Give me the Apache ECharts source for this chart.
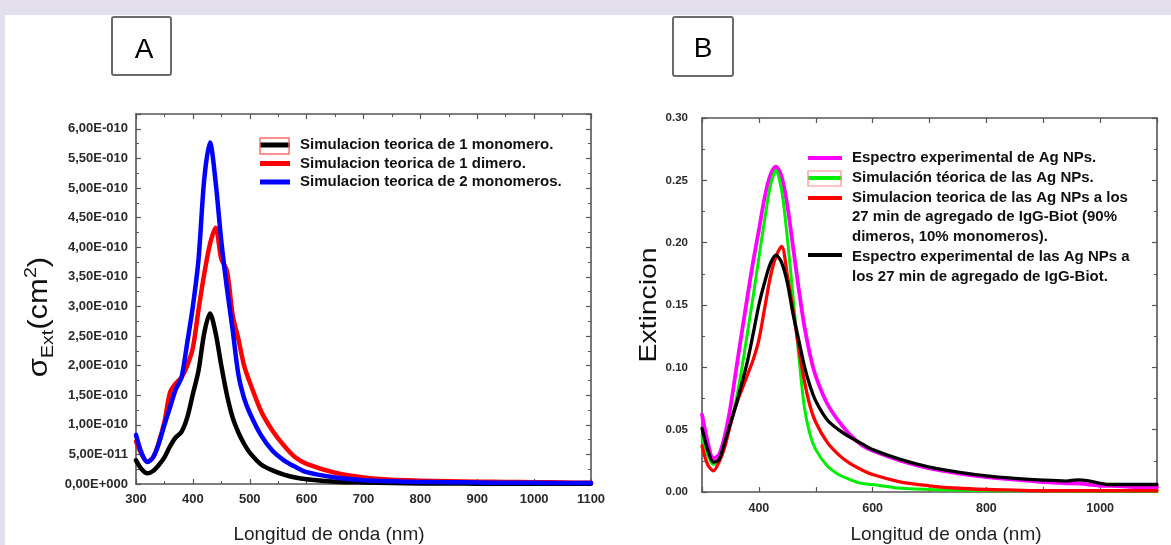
<!DOCTYPE html>
<html>
<head>
<meta charset="utf-8">
<title>Extinción de nanopartículas de Ag</title>
<script src="https://cdn.jsdelivr.net/npm/echarts@6/dist/echarts.min.js"></script>
<style>
  html, body { margin: 0; padding: 0; background: #fff; }
  #chart { width: 1171px; height: 545px; }
</style>
</head>
<body>
<div id="chart"></div>
<script>
// ---------- Panel A: simulated extinction cross-section (units of 1e-10 cm^2) ----------
const wavelengthA = [300, 310, 320, 330, 340, 350, 360, 370, 380, 390, 400, 410, 420, 430, 440, 450, 460, 470, 480, 490, 500, 520, 540, 560, 580, 600, 650, 700, 750, 800, 850, 900, 950, 1000, 1050, 1100];
const sigmaMonomer = [0.40, 0.25, 0.18, 0.22, 0.32, 0.45, 0.64, 0.79, 0.88, 1.12, 1.52, 1.92, 2.55, 2.88, 2.55, 2.00, 1.50, 1.12, 0.87, 0.68, 0.53, 0.33, 0.23, 0.16, 0.11, 0.08, 0.04, 0.025, 0.015, 0.01, 0.008, 0.006, 0.005, 0.004, 0.003, 0.003];
const sigmaDimer = [0.72, 0.50, 0.38, 0.45, 0.70, 1.05, 1.55, 1.70, 1.80, 2.00, 2.30, 2.95, 3.55, 4.05, 4.33, 3.80, 3.60, 2.85, 2.45, 2.00, 1.72, 1.23, 0.90, 0.65, 0.45, 0.34, 0.19, 0.11, 0.07, 0.055, 0.045, 0.04, 0.035, 0.03, 0.025, 0.02];
const sigmaTwoMonomers = [0.83, 0.52, 0.37, 0.45, 0.68, 1.00, 1.30, 1.60, 1.80, 2.38, 3.00, 3.80, 5.15, 5.77, 5.10, 4.10, 3.30, 2.60, 1.85, 1.45, 1.20, 0.82, 0.56, 0.40, 0.29, 0.20, 0.11, 0.065, 0.045, 0.035, 0.03, 0.025, 0.02, 0.02, 0.015, 0.015];
const namesA = [
  'Simulacion teorica de 1 monomero.',
  'Simulacion teorica de 1 dimero.',
  'Simulacion teorica de 2 monomeros.'
];
const xTicksA = [300, 400, 500, 600, 700, 800, 900, 1000, 1100];

// ---------- Panel B: measured and simulated extinction ----------
const wavelengthB = [300, 310, 320, 330, 340, 350, 360, 370, 380, 390, 400, 410, 420, 430, 440, 450, 460, 470, 480, 490, 500, 520, 540, 560, 580, 600, 650, 700, 750, 800, 850, 900, 940, 960, 980, 1000, 1020, 1060, 1100];
const extAgExp = [0.062, 0.040, 0.027, 0.030, 0.045, 0.068, 0.098, 0.128, 0.157, 0.185, 0.210, 0.236, 0.254, 0.261, 0.253, 0.230, 0.197, 0.163, 0.133, 0.110, 0.093, 0.071, 0.057, 0.046, 0.038, 0.033, 0.025, 0.019, 0.015, 0.012, 0.010, 0.008, 0.007, 0.007, 0.006, 0.005, 0.005, 0.004, 0.004];
const extAgSim = [0.045, 0.030, 0.022, 0.026, 0.039, 0.055, 0.074, 0.099, 0.128, 0.157, 0.188, 0.218, 0.245, 0.258, 0.242, 0.204, 0.157, 0.110, 0.068, 0.046, 0.034, 0.021, 0.014, 0.010, 0.007, 0.006, 0.003, 0.002, 0.0015, 0.001, 0.001, 0.0008, 0.0006, 0.0005, 0.0005, 0.0005, 0.0005, 0.0005, 0.0005];
const extDimerSim = [0.037, 0.022, 0.017, 0.024, 0.036, 0.054, 0.070, 0.082, 0.094, 0.106, 0.122, 0.147, 0.172, 0.189, 0.197, 0.174, 0.146, 0.116, 0.089, 0.069, 0.056, 0.040, 0.030, 0.023, 0.018, 0.014, 0.008, 0.005, 0.003, 0.002, 0.0015, 0.001, 0.001, 0.001, 0.001, 0.001, 0.001, 0.001, 0.001];
const extIgGExp = [0.051, 0.034, 0.024, 0.026, 0.040, 0.055, 0.070, 0.087, 0.105, 0.127, 0.150, 0.168, 0.183, 0.190, 0.184, 0.168, 0.143, 0.122, 0.101, 0.085, 0.073, 0.058, 0.050, 0.044, 0.039, 0.034, 0.026, 0.020, 0.016, 0.013, 0.011, 0.0095, 0.0088, 0.0098, 0.009, 0.007, 0.006, 0.006, 0.006];
const namesB = [
  'Espectro experimental de Ag NPs.',
  'Simulación téorica de las Ag NPs.',
  'Simulacion teorica de las Ag NPs a los 27 min de agregado de IgG-Biot (90% dimeros, 10% monomeros).',
  'Espectro experimental de las Ag NPs a los 27 min de agregado de IgG-Biot.'
];
const legendLinesB = [
  'Espectro experimental de Ag NPs.',
  'Simulación téorica de las Ag NPs.',
  'Simulacion teorica de las Ag NPs a los',
  '27 min de agregado de IgG-Biot (90%',
  'dimeros, 10% monomeros).',
  'Espectro experimental de las Ag NPs a',
  'los 27 min de agregado de IgG-Biot.'
];
const xTicksB = [400, 600, 800, 1000];

const FONT = '"Liberation Sans", Arial, Helvetica, sans-serif';
const FRAME = '#555';
const colorsA = ['#000000', '#ff0000', '#0000ff'];
const colorsB = ['#ff00ff', '#00ee00', '#ff0000', '#000000'];

function pairs(xs, ys) { return xs.map((x, i) => [x, ys[i]]); }

// "6,00E-010" style labels for values given in 1e-10 cm^2
function sciLabel(v) {
  if (v > 6.001) return '';
  const real = v * 1e-10;
  if (Math.abs(real) < 1e-30) return '0,00E+000';
  const exp = Math.floor(Math.log10(real) + 1e-9);
  const mant = real / Math.pow(10, exp);
  return mant.toFixed(2).replace('.', ',') + 'E' + (exp < 0 ? '-' : '+') + String(Math.abs(exp)).padStart(3, '0');
}

function frameAxis(extra) {
  return Object.assign({
    type: 'value',
    axisLine: { show: true, onZero: false, lineStyle: { color: FRAME, width: 1.6 } },
    axisTick: { show: true, inside: true, length: 5, lineStyle: { color: FRAME, width: 1.2 } },
    minorTick: { show: false },
    splitLine: { show: false },
    minorSplitLine: { show: false }
  }, extra);
}

const tickFontA = { fontFamily: FONT, fontWeight: 'bold', fontSize: 13, color: '#2a2a2a' };
const tickFontB = { fontFamily: FONT, fontWeight: 'bold', fontSize: 12, color: '#2a2a2a' };

const xAxes = [
  frameAxis({ gridIndex: 0, position: 'bottom', min: 300, max: 1100, interval: 100,
    minorTick: { show: true, splitNumber: 2, length: 3, lineStyle: { color: FRAME } },
    axisLabel: Object.assign({ margin: 9, formatter: v => xTicksA.includes(v) ? String(v) : '' }, tickFontA) }),
  frameAxis({ gridIndex: 0, position: 'top', min: 300, max: 1100, interval: 100,
    minorTick: { show: true, splitNumber: 2, length: 3, lineStyle: { color: FRAME } },
    axisLabel: { show: false } }),
  frameAxis({ gridIndex: 1, position: 'bottom', min: 300, max: 1100, interval: 100,
    axisLabel: Object.assign({ margin: 10, formatter: v => xTicksB.includes(v) ? String(v) : '' }, tickFontB, { fontSize: 12.5 }) }),
  frameAxis({ gridIndex: 1, position: 'top', min: 300, max: 1100, interval: 100,
    axisLabel: { show: false } })
];

const yAxes = [
  frameAxis({ gridIndex: 0, position: 'left', min: 0, max: 6.25, interval: 0.5,
    minorTick: { show: true, splitNumber: 2, length: 3, lineStyle: { color: FRAME } },
    axisLabel: Object.assign({ margin: 8, formatter: sciLabel }, tickFontA) }),
  frameAxis({ gridIndex: 0, position: 'right', min: 0, max: 6.25, interval: 0.5,
    minorTick: { show: true, splitNumber: 2, length: 3, lineStyle: { color: FRAME } },
    axisLabel: { show: false } }),
  frameAxis({ gridIndex: 1, position: 'left', min: 0, max: 0.3, interval: 0.05,
    minorTick: { show: true, splitNumber: 2, length: 3, lineStyle: { color: FRAME } },
    axisLabel: Object.assign({ margin: 14, formatter: v => v.toFixed(2) }, tickFontB, { fontSize: 11.5 }) }),
  frameAxis({ gridIndex: 1, position: 'right', min: 0, max: 0.3, interval: 0.05,
    minorTick: { show: true, splitNumber: 2, length: 3, lineStyle: { color: FRAME } },
    axisLabel: { show: false } })
];

function curve(name, xs, ys, color, width, axis) {
  return {
    name: name, type: 'line', xAxisIndex: axis, yAxisIndex: axis,
    data: pairs(xs, ys), showSymbol: false, symbol: 'none',
    smooth: 0.3,
    lineStyle: { color: color, width: width, join: 'round', cap: 'round' }, itemStyle: { color: color },
    emphasis: { disabled: true }, silent: true
  };
}

const series = [
  curve(namesA[0], wavelengthA, sigmaMonomer, colorsA[0], 4.5, 0),
  curve(namesA[1], wavelengthA, sigmaDimer, colorsA[1], 4.5, 0),
  curve(namesA[2], wavelengthA, sigmaTwoMonomers, colorsA[2], 4.5, 0),
  curve(namesB[0], wavelengthB, extAgExp, colorsB[0], 3.8, 2),
  curve(namesB[1], wavelengthB, extAgSim, colorsB[1], 3, 2),
  curve(namesB[2], wavelengthB, extDimerSim, colorsB[2], 3.3, 2),
  curve(namesB[3], wavelengthB, extIgGExp, colorsB[3], 3.3, 2)
];

// Legend samples for panel B (first line of each entry carries the sample)
const legendRowY = [158, 178, 198, 255];
const legendB = [];
colorsB.forEach((c, i) => {
  legendB.push({ type: 'line', silent: true, z: 50,
    shape: { x1: 808, y1: legendRowY[i], x2: 842, y2: legendRowY[i] },
    style: { stroke: c, lineWidth: 4 } });
});
legendB.push({ type: 'rect', silent: true, z: 51,
  shape: { x: 808, y: 171, width: 33, height: 15 },
  style: { fill: 'none', stroke: '#ff8c8c', lineWidth: 1.2 } });
legendB.push({ type: 'text', silent: true, z: 50, x: 852, y: 148,
  style: { text: legendLinesB.join('\n'), fontFamily: FONT, fontWeight: 'bold', fontSize: 15,
    lineHeight: 19.8, fill: '#111', align: 'left', verticalAlign: 'top' } });

const graphic = [
  // page frame
  { type: 'rect', silent: true, shape: { x: 0, y: 0, width: 1171, height: 15 }, style: { fill: '#e4dfec' } },
  { type: 'rect', silent: true, shape: { x: 0, y: 0, width: 5, height: 545 }, style: { fill: '#e4dfec' } },
  // panel tags
  { type: 'rect', silent: true, shape: { x: 112, y: 17, width: 59, height: 58, r: 2 }, style: { fill: '#fff', stroke: '#6b6b6b', lineWidth: 2 } },
  { type: 'text', silent: true, x: 144, y: 50, style: { text: 'A', fontFamily: FONT, fontSize: 28, fill: '#000', align: 'center', verticalAlign: 'middle' } },
  { type: 'rect', silent: true, shape: { x: 673, y: 17, width: 60, height: 59, r: 2 }, style: { fill: '#fff', stroke: '#6b6b6b', lineWidth: 2 } },
  { type: 'text', silent: true, x: 703, y: 49, style: { text: 'B', fontFamily: FONT, fontSize: 28, fill: '#000', align: 'center', verticalAlign: 'middle' } },
  // axis titles
  { type: 'text', silent: true, x: 329, y: 535, style: { text: 'Longitud de onda (nm)', fontFamily: FONT, fontSize: 19, fill: '#222', align: 'center', verticalAlign: 'middle' } },
  { type: 'text', silent: true, x: 946, y: 535, style: { text: 'Longitud de onda (nm)', fontFamily: FONT, fontSize: 19, fill: '#222', align: 'center', verticalAlign: 'middle' } },
  { type: 'text', silent: true, x: 40, y: 317, rotation: Math.PI / 2, scaleX: 1.15,
    style: { text: '{m|σ}{s|Ext}{m|(cm}{p|2}{m|)}', fill: '#111', align: 'center', verticalAlign: 'middle',
      rich: {
        m: { fontFamily: FONT, fontSize: 27, lineHeight: 34, verticalAlign: 'middle', fill: '#111' },
        s: { fontFamily: FONT, fontSize: 17, lineHeight: 34, verticalAlign: 'bottom', padding: [10, 0, 0, 0], fill: '#111' },
        p: { fontFamily: FONT, fontSize: 17, lineHeight: 34, verticalAlign: 'top', fill: '#111' }
      } } },
  { type: 'text', silent: true, x: 649, y: 305, rotation: Math.PI / 2, scaleX: 1.18,
    style: { text: 'Extincion', fontFamily: FONT, fontSize: 24, fill: '#111', align: 'center', verticalAlign: 'middle' } },
  // outline drawn around the first sample of legend A
  { type: 'rect', silent: true, z: 51, shape: { x: 260, y: 138, width: 29, height: 16 }, style: { fill: 'none', stroke: '#ff6b6b', lineWidth: 1.4 } }
].concat(legendB);

const option = {
  backgroundColor: '#ffffff',
  animation: false,
  grid: [
    { left: 136, top: 114, width: 455, height: 370 },
    { left: 702, top: 118, width: 455, height: 374 }
  ],
  xAxis: xAxes,
  yAxis: yAxes,
  legend: {
    data: namesA, left: 260, top: 137.5, orient: 'vertical', padding: 0,
    itemGap: 3.5, itemWidth: 30, itemHeight: 5, icon: 'rect', selectedMode: false,
    textStyle: { fontFamily: FONT, fontWeight: 'bold', fontSize: 15, color: '#111', padding: [0, 0, 0, 5] }
  },
  series: series,
  graphic: graphic
};

const chart = echarts.init(document.getElementById('chart'), null, { renderer: 'canvas' });
chart.setOption(option);
</script>
</body>
</html>
